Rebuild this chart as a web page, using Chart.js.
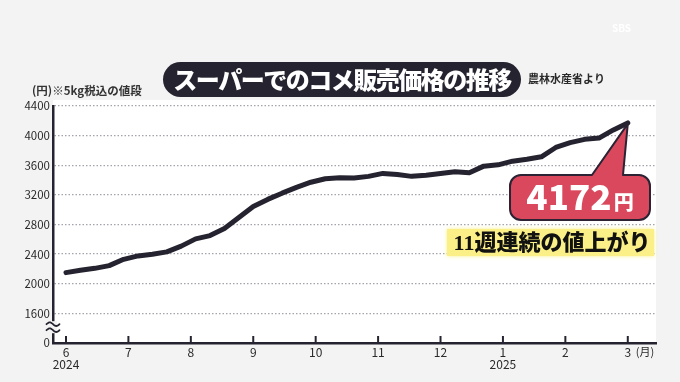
<!DOCTYPE html>
<html><head><meta charset="utf-8">
<script src="https://cdn.jsdelivr.net/npm/chart.js@4/dist/chart.umd.min.js"></script>
<style>html,body{margin:0;padding:0;background:#f3f3f3;overflow:hidden}</style>
</head><body>
<canvas id="c" width="680" height="382"></canvas>
<script>
// weekly data (week start dates) - supermarket rice price, 5kg incl. tax
const weeks = ['2024-06-03','2024-06-10','2024-06-17','2024-06-24','2024-07-01','2024-07-08','2024-07-15','2024-07-22','2024-07-29','2024-08-05','2024-08-12','2024-08-19','2024-08-26','2024-09-02','2024-09-09','2024-09-16','2024-09-23','2024-09-30','2024-10-07','2024-10-14','2024-10-21','2024-10-28','2024-11-04','2024-11-11','2024-11-18','2024-11-25','2024-12-02','2024-12-09','2024-12-16','2024-12-23','2024-12-30','2025-01-06','2025-01-13','2025-01-20','2025-01-27','2025-02-03','2025-02-10','2025-02-17','2025-02-24','2025-03-03'];
const prices = [2150,2182,2208,2245,2330,2376,2399,2430,2508,2606,2650,2745,2893,3044,3139,3223,3301,3371,3418,3430,3428,3450,3490,3475,3450,3465,3490,3512,3499,3588,3606,3655,3680,3714,3840,3905,3950,3967,4077,4172];
const monthTicks = [6,7,8,9,10,11,12,13,14,15];
const monthLabels = ['6','7','8','9','10','11','12','1','2','3'];
const yearLabels = {6:'2024', 13:'2025'};
const yTicks = [1200,1600,2000,2400,2800,3200,3600,4000,4400];
const yTickLabels = ['0','1600','2000','2400','2800','3200','3600','4000','4400'];
const titleText = 'スーパーでのコメ販売価格の推移';
const sourceText = '農林水産省より';
const unitText = '(円)※5kg税込の値段';
const calloutNote = '11週連続の値上がり';

const FONT = '"Noto Sans CJK JP", "Noto Sans", sans-serif';
const DARK = '#25232f';
const BG = '#f3f3f3';

function roundRectPath(ctx, x, y, w, h, r){
  ctx.beginPath();
  ctx.moveTo(x+r, y);
  ctx.arcTo(x+w, y, x+w, y+h, r);
  ctx.arcTo(x+w, y+h, x, y+h, r);
  ctx.arcTo(x, y+h, x, y, r);
  ctx.arcTo(x, y, x+w, y, r);
  ctx.closePath();
}

const decor = {
  id: 'decor',
  beforeDraw(chart){
    const {ctx, chartArea:a} = chart;
    ctx.save();
    ctx.fillStyle = BG; ctx.fillRect(0,0,chart.width,chart.height);
    ctx.fillStyle = '#ffffff'; ctx.fillRect(a.left, a.top-6, a.right-a.left, a.bottom-a.top+6);
    ctx.restore();
  },
  afterDraw(chart){
    const {ctx, chartArea:a, scales:{x, y}} = chart;
    ctx.save();
    // upward month tick marks
    ctx.strokeStyle = DARK; ctx.lineWidth = 2;
    monthTicks.forEach(v => {
      const px = x.getPixelForValue(v);
      ctx.beginPath(); ctx.moveTo(px, a.bottom-7); ctx.lineTo(px, a.bottom); ctx.stroke();
    });
    // (月)
    ctx.fillStyle = '#2a2a2a'; ctx.font = '11px ' + FONT; ctx.textBaseline = 'middle'; ctx.textAlign = 'left';
    ctx.fillText('(月)', x.getPixelForValue(15) + 8, a.bottom + 9);
    // axis break ≈
    const by = y.getPixelForValue(1400) - 1;
    ctx.fillStyle = BG; ctx.fillRect(a.left-4, by-6, 8, 12);
    ctx.strokeStyle = DARK; ctx.lineWidth = 1.8; ctx.lineCap = 'round';
    [-3, 3].forEach(dy => {
      ctx.beginPath();
      for (let i=0;i<=20;i++){
        const t = i/20; const px = a.left - 6.5 + 13*t; const py = by + dy - 1.8*Math.sin(2*Math.PI*t);
        if (i===0) ctx.moveTo(px,py); else ctx.lineTo(px,py);
      }
      ctx.stroke();
    });
    // title pill
    ctx.fillStyle = DARK; roundRectPath(ctx, 163, 62, 358, 35, 17.5); ctx.fill();
    ctx.fillStyle = '#ffffff'; ctx.font = '900 24px ' + FONT; ctx.textAlign = 'center'; ctx.textBaseline = 'middle';
    ctx.letterSpacing = '-1.5px';
    ctx.fillText(titleText, 342, 80);
    ctx.letterSpacing = '0px';
    // source
    ctx.fillStyle = '#2a2a2a'; ctx.font = 'bold 11px ' + FONT; ctx.textAlign = 'left';
    ctx.fillText(sourceText, 528, 79);
    // unit
    ctx.font = 'bold 11.5px ' + FONT; ctx.fillStyle = '#333333';
    ctx.fillText(unitText, 32, 91);
    // callout
    const meta = chart.getDatasetMeta(0);
    const last = meta.data[meta.data.length-1];
    const x0=510, y0=175, x1=650, y1=220, r=11;
    ctx.beginPath();
    ctx.moveTo(x0+r, y0);
    ctx.lineTo(592, y0);
    ctx.lineTo(last.x, last.y+1);
    ctx.lineTo(623, y0);
    ctx.arcTo(x1, y0, x1, y1, r);
    ctx.arcTo(x1, y1, x0, y1, r);
    ctx.arcTo(x0, y1, x0, y0, r);
    ctx.arcTo(x0, y0, x0+r, y0, r);
    ctx.closePath();
    ctx.fillStyle = '#d9485c'; ctx.fill();
    ctx.strokeStyle = '#2b2233'; ctx.lineWidth = 2; ctx.lineJoin = 'round'; ctx.stroke();
    const big = String(prices[prices.length-1]);
    ctx.fillStyle = '#ffffff'; ctx.textBaseline = 'alphabetic'; ctx.textAlign = 'left';
    ctx.font = '900 35px ' + FONT; const w1 = ctx.measureText(big).width;
    ctx.font = '900 20px ' + FONT; const w2 = ctx.measureText('円').width;
    const sx = 580 - (w1 + 2 + w2)/2;
    ctx.font = '900 35px ' + FONT; ctx.fillText(big, sx, 210);
    ctx.font = '900 20px ' + FONT; ctx.fillText('円', sx + w1 + 2, 210);
    // highlighted note
    ctx.fillStyle = '#fbf088'; ctx.shadowColor = '#fbf088'; ctx.shadowBlur = 4;
    ctx.fillRect(447, 229, 207, 27);
    ctx.shadowBlur = 0;
    ctx.fillStyle = '#111111'; ctx.font = '900 22px "Liberation Serif", "DejaVu Serif", ' + FONT; ctx.textAlign = 'center';
    ctx.fillText(calloutNote, 552, 250);
    // watermark
    ctx.fillStyle = '#ffffff'; ctx.font = 'bold 10px ' + FONT; ctx.textAlign = 'left';
    ctx.fillText('SBS', 612, 32);
    ctx.restore();
  }
};

new Chart(document.getElementById('c').getContext('2d'), {
  type: 'line',
  data: {
    labels: weeks,
    datasets: [{
      data: prices.map((p, i) => ({x: 6 + i*9/(prices.length-1), y: p})),
      borderColor: DARK, borderWidth: 5, pointRadius: 0, tension: 0,
      borderCapStyle: 'round', borderJoinStyle: 'round', fill: false, clip: false
    }]
  },
  options: {
    responsive: false, animation: false, events: [],
    layout: {padding: {left: 0, right: 24, top: 106, bottom: 0}},
    plugins: {legend: {display: false}, tooltip: {enabled: false}, title: {display: false}},
    scales: {
      x: {
        type: 'linear', min: 5.792, max: 15.452,
        afterBuildTicks: s => { s.ticks = monthTicks.map(v => ({value: v})); },
        afterFit: s => { s.height = 39; },
        ticks: {
          autoSkip: false, maxRotation: 0, padding: 3, color: '#2a2a2a',
          font: {family: FONT, size: 12, lineHeight: 1},
          callback: v => { const i = monthTicks.indexOf(v); return yearLabels[v] ? [monthLabels[i], yearLabels[v]] : monthLabels[i]; }
        },
        grid: {display: true, drawOnChartArea: false, drawTicks: false},
        border: {display: true, color: DARK, width: 2.5}
      },
      y: {
        type: 'linear', min: 1200, max: 4400,
        afterBuildTicks: s => { s.ticks = yTicks.map(v => ({value: v})); },
        afterFit: s => { s.width = 53; },
        ticks: {
          autoSkip: false, padding: 3, color: '#2a2a2a',
          font: {family: FONT, size: 11.5},
          callback: v => yTickLabels[yTicks.indexOf(v)]
        },
        grid: {color: c => (c.tick && c.tick.value === 1200) ? 'rgba(0,0,0,0)' : '#a3a3ab', lineWidth: 1.3, drawTicks: false},
        border: {display: true, color: DARK, width: 2.5, dash: [1.5, 2]}
      }
    }
  },
  plugins: [decor]
});
</script>
</body></html>
